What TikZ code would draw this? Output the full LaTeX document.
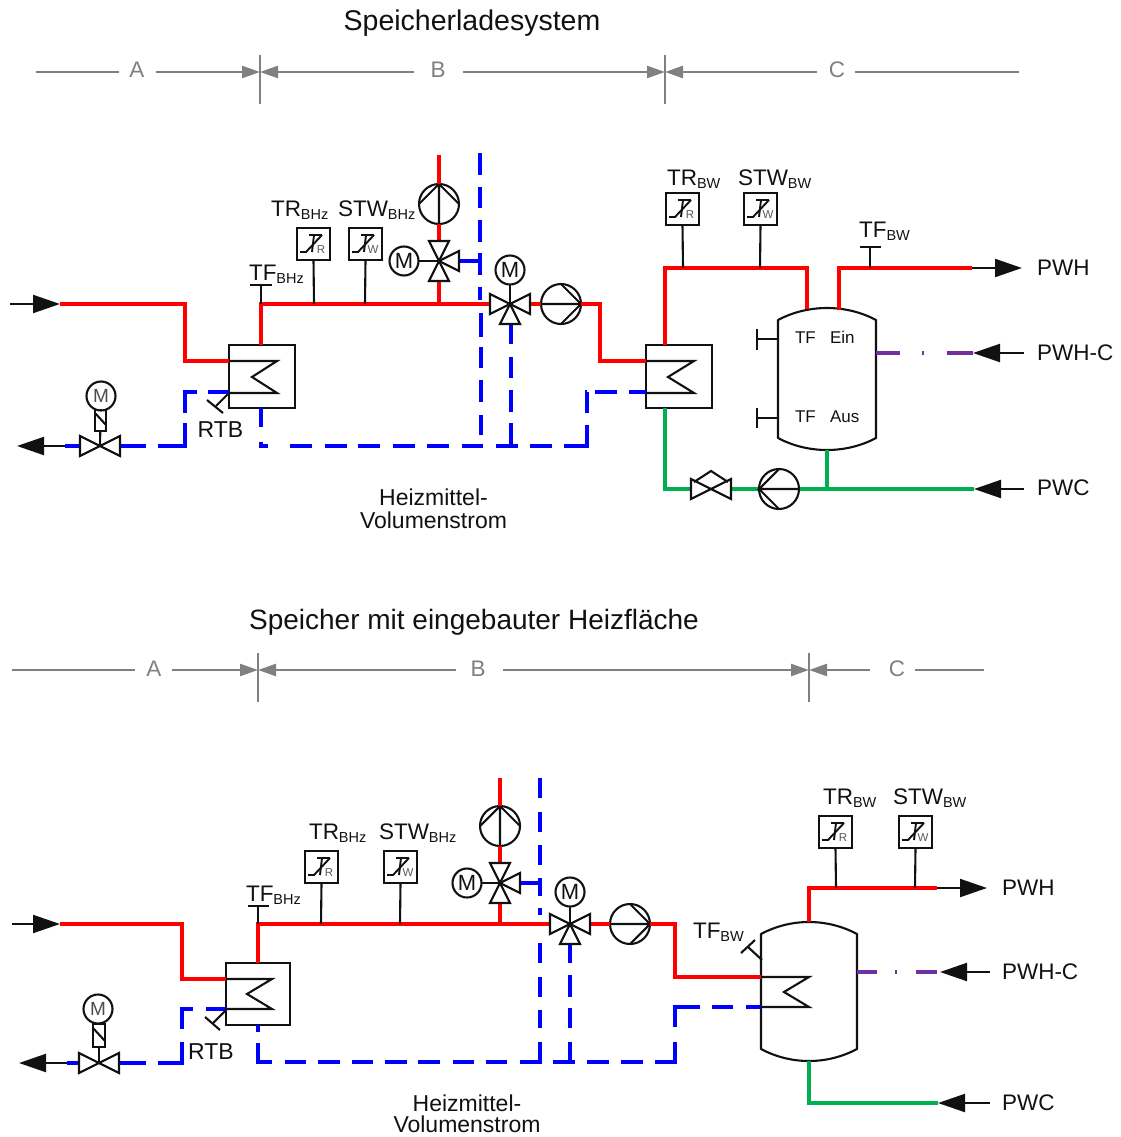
\documentclass[tikz,border=0pt]{standalone}
\usepackage{fontspec}
\setmainfont{Liberation Sans}
\usetikzlibrary{arrows.meta,calc}
\definecolor{pred}{HTML}{FF0000}
\definecolor{pblue}{HTML}{0000FF}
\definecolor{pgreen}{HTML}{00B050}
\definecolor{ppurple}{HTML}{7030A0}
\definecolor{dimgrey}{HTML}{808080}
\definecolor{ink}{HTML}{111111}
\tikzset{
  sym/.style={draw=ink,line width=2.1pt,line join=miter},
  redpipe/.style={draw=pred,line width=3.2pt,line join=miter},
  greenpipe/.style={draw=pgreen,line width=3.2pt,line join=miter},
  bluepipe/.style={draw=pblue,line width=3.2pt,line join=miter},
  purplepipe/.style={draw=ppurple,line width=3.2pt},
  flow/.style={draw=ink,line width=2.1pt,-{Triangle[length=27pt,width=18pt]}},
  dimline/.style={draw=dimgrey,line width=2.3pt},
  dimarrow/.style={dimline,-{Triangle[length=18pt,width=12pt]}},
  dimtick/.style={draw=dimgrey,line width=1.8pt},
  txt/.style={inner sep=0pt,outer sep=0pt,text=ink,font=\fontsize{23}{25}\selectfont},
  rtxt/.style={txt,anchor=base west,font=\fontsize{22.5}{25}\selectfont},
  titletxt/.style={inner sep=0pt,outer sep=0pt,text=ink,font=\fontsize{28.5}{30}\selectfont},
  dimtxt/.style={inner sep=0pt,outer sep=0pt,text=dimgrey,font=\fontsize{22.5}{25}\selectfont},
  smalltxt/.style={inner sep=0pt,outer sep=0pt,text=ink,font=\fontsize{17}{19}\selectfont},
  circ/.style={circle,sym,inner sep=0pt,outer sep=0pt,minimum size=40pt,fill=white},
  motor/.style={circle,sym,inner sep=0pt,outer sep=0pt,minimum size=29pt,fill=white,text=ink,font=\fontsize{22}{22}\selectfont},
  motorsm/.style={motor,text=black!70,font=\fontsize{19}{19}\selectfont},
  sbox/.style={rectangle,sym,inner sep=0pt,outer sep=0pt,minimum width=33pt,minimum height=32pt,anchor=north west},
  hxbox/.style={rectangle,sym,inner sep=0pt,outer sep=0pt,anchor=north west},
  actbox/.style={rectangle,sym,inner sep=0pt,outer sep=0pt,fill=white},
}
\newcommand\lblsub[2]{{\fontsize{22.5}{25}\selectfont #1}{\fontsize{14.5}{15}\selectfont\raisebox{-3.5pt}{#2}}}
\newcommand\sensorbox[4]{%
  \node[sbox] (#1) at (#2,#3) {};
  \draw[sym,line width=1.9pt] ($(#1.north west)+(3,24)$) -- ++(6,0) -- ++(16,-17);
  \draw[sym,line width=1.9pt] ($(#1.north west)+(12,7)$) -- ++(13,0);
  \draw[sym,line width=1.9pt] ($(#1.north west)+(17,7)$) -- ++(-2,17);
  \node[inner sep=0pt,text=black!65,font=\fontsize{11.5}{12}\selectfont] at ($(#1.north west)+(24,21.5)$) {#4};
}
\newcommand\valvept[3]{%
  \coordinate (#1) at (#2,#3);
  \coordinate (#1-l) at ($(#1)+(-20,0)$);
  \coordinate (#1-r) at ($(#1)+(20,0)$);
  \coordinate (#1-u) at ($(#1)+(0,-20)$);
  \coordinate (#1-d) at ($(#1)+(0,20)$);
}
\newcommand\triL[1]{\draw[sym] (#1) -- ($(#1-l)+(0,-10)$) -- ($(#1-l)+(0,10)$) -- cycle;}
\newcommand\triR[1]{\draw[sym] (#1) -- ($(#1-r)+(0,-10)$) -- ($(#1-r)+(0,10)$) -- cycle;}
\newcommand\triU[1]{\draw[sym] (#1) -- ($(#1-u)+(-10,0)$) -- ($(#1-u)+(10,0)$) -- cycle;}
\newcommand\triD[1]{\draw[sym] (#1) -- ($(#1-d)+(-10,0)$) -- ($(#1-d)+(10,0)$) -- cycle;}
\newcommand\pumpsym[7]{%
  \node[circ] (#1) at (#2,#3) {};
  \draw[sym] (#1.#5) -- (#1.#4) -- (#1.#6) (#1.#4) -- (#1.#7);
}
\newcommand\tanksym[7]{%
  \coordinate (#1-top) at ({(#2+#3)/2},#5);
  \coordinate (#1-bot) at ({(#2+#3)/2},#7);
  \draw[sym,line join=round] (#2,#4) .. controls ({#2+30},{#5-(#4-#5)/3}) and ({#3-30},{#5-(#4-#5)/3}) .. (#3,#4) -- (#3,#6)
     .. controls ({#3-30},{#7+(#7-#6)/3}) and ({#2+30},{#7+(#7-#6)/3}) .. (#2,#6) -- cycle;
}
% dashes of a blue pipe: horizontal run at y, vertical run at x; list of from/to
\newcommand\blueH[2]{\foreach \a/\b in {#2} {\draw[bluepipe] (\a,#1) -- (\b,#1);}}
\newcommand\blueV[2]{\foreach \a/\b in {#2} {\draw[bluepipe] (#1,\a) -- (#1,\b);}}
\begin{document}
\begin{tikzpicture}[x=1pt,y=-1pt]
\useasboundingbox (0,0) rectangle (1120,1137);

%================ TOP ================
\node[titletxt] (t1) at (472,23) {Speicherladesystem};
\coordinate (ta0) at (36,72); \coordinate (ta1) at (119,72); \coordinate (ta2) at (156,72);
\coordinate (tb) at (260,72); \coordinate (tb1) at (414,72); \coordinate (tb2) at (463,72);
\coordinate (tc) at (665,72); \coordinate (tc1) at (817,72); \coordinate (tc2) at (855,72); \coordinate (tc3) at (1019,72);
\node[dimtxt] (tA) at (137,70) {A}; \node[dimtxt] (tB) at (438,70) {B}; \node[dimtxt] (tC) at (837,70) {C};
\draw[dimline] (ta0) -- (ta1);
\draw[dimarrow] (ta2) -- (tb);
\draw[dimarrow] (tb1) -- (tb);
\draw[dimarrow] (tb2) -- (tc);
\draw[dimarrow] (tc1) -- (tc);
\draw[dimline] (tc2) -- (tc3);
\draw[dimtick] (260,55) -- (260,104);
\draw[dimtick] (665,55) -- (665,104);

\node[hxbox,minimum width=66pt,minimum height=63pt] (hx1) at (229,345) {};
\coordinate (hx1a) at (229,361); \coordinate (hx1b) at (229,393);
\coordinate (hx1t) at (261,345); \coordinate (hx1d) at (261,408);
\draw[sym] (hx1a) -- (277,361) -- (252,377) -- (277,393) -- (hx1b);
\node[hxbox,minimum width=66pt,minimum height=63pt] (hx2) at (646,345) {};
\coordinate (hx2a) at (646,361); \coordinate (hx2b) at (646,393);
\coordinate (hx2t) at (665,345); \coordinate (hx2d) at (665,408);
\draw[sym] (hx2a) -- (694,361) -- (668,377) -- (694,393) -- (hx2b);

% red pipes
\coordinate (in1) at (10,304); \coordinate (in1r) at (60,304);
\coordinate (j1) at (261,304); \coordinate (j2) at (314,304); \coordinate (j3) at (365,304); \coordinate (j4) at (439,304);
\valvept{v1}{439}{261}
\valvept{v2}{510}{304}
\coordinate (up1) at (439,155);
\pumpsym{p1}{439}{204}{north}{south}{west}{east}
\pumpsym{p2}{561}{304}{east}{west}{north}{south}
\draw[redpipe] (in1r) -- (185,304) -- (185,361) -- (hx1a);
\draw[redpipe] (hx1t) -- (j1) -- (v2-l);
\draw[redpipe] (j4) -- (v1-d);
\draw[redpipe] (v1-u) -- (p1.south);
\draw[redpipe] (p1.north) -- (up1);
\draw[redpipe] (v2-r) -- (p2.west);
\draw[redpipe] (p2.east) -- (600,304) -- (600,361) -- (hx2a);
\draw[flow] (in1) -- (in1r);

% blue pipes
\blueV{261}{408/427,442/447.6}
\blueH{446}{261/268,290/312,325/347,358/380,393/415,427/449,462/483,496/518,530/552,564/588.6}
\blueV{587}{425/447,392/413}
\blueH{392}{585.4/587,595/617,629/646}
\draw[bluepipe] (v1-r) -- (480,261);
\blueV{480}{153/175,187/208,220/242,253/275,287/300}
\blueV{481}{313/337,347/368,380/402,415/435}
\blueV{511}{324/344,357/378,390/412,423/446}
\valvept{v3}{100}{446}
\blueH{446}{120/146,158/186.6}
\blueV{185}{423/446,392/413}
\blueH{392}{183.4/197,208/229}
\coordinate (o3) at (65,446); \coordinate (o3l) at (17,446);
\draw[bluepipe] (v3-l) -- (o3);
\draw[flow] (o3) -- (o3l);

% valves
\triU{v1}\triD{v1}\triR{v1}
\node[motor] (m1) at (404,261) {M};
\draw[sym] (m1) -- (v1);
\triL{v2}\triR{v2}\triD{v2}
\node[motor] (m2) at (510,270) {M};
\draw[sym] (m2) -- (v2);
\triL{v3}\triR{v3}
\node[actbox,minimum width=11pt,minimum height=22pt] (a3) at (100.5,420) {};
\draw[sym] (v3) -- (a3);
\draw[sym] (a3.north west)++(0,4) -- ($(a3.south east)+(0,-6)$);
\node[motorsm] (m3) at (101,396) {M};
\draw[sym] (m3) -- (a3);
% RTB
\coordinate (rtb1) at (216,406);
\draw[sym] (229,393) -- (rtb1);
\draw[sym] (207,400) -- (223,413);
\node[txt,anchor=base] (rtb) at (220.5,437) {RTB};
% sensors
\coordinate (tf1) at (261,285);
\draw[sym] (j1) -- (tf1);
\draw[sym] (250,285) -- (272,285);
\node[txt,anchor=base west] (ltf1) at (249,280) {\lblsub{TF}{BHz}};
\sensorbox{s1}{297}{228}{R}
\sensorbox{s2}{349}{228}{W}
\draw[sym] (s1.south) -- (j2);
\draw[sym] (s2.south) -- (j3);
\node[txt,anchor=base west] (ls1) at (271,216) {\lblsub{TR}{BHz}};
\node[txt,anchor=base west] (ls2) at (338,216) {\lblsub{STW}{BHz}};
\node[txt,anchor=base] (hm1) at (433.5,505) {Heizmittel-};
\node[txt,anchor=base] (hm1b) at (433.5,528) {Volumenstrom};

% tank top
\tanksym{tk1}{778}{876}{320}{308}{438}{450}
\coordinate (r1) at (665,268); \coordinate (r2) at (807,268); \coordinate (r3) at (807,309);
\coordinate (r4) at (839,310); \coordinate (r5) at (839,268); \coordinate (r6) at (972,268);
\coordinate (oH) at (1022,268);
\draw[redpipe] (hx2t) -- (r1) -- (r2) -- (r3);
\draw[redpipe] (r4) -- (r5) -- (r6);
\draw[flow] (r6) -- (oH);
\sensorbox{s3}{666}{193}{R}
\sensorbox{s4}{744}{193}{W}
\coordinate (j5) at (683,268); \coordinate (j6) at (760,268); \coordinate (j7) at (870,268);
\draw[sym] (s3.south) -- (j5);
\draw[sym] (s4.south) -- (j6);
\draw[sym] (j7) -- (870,247);
\draw[sym] (860,247) -- (881,247);
\node[txt,anchor=base west] (ls3) at (667,185) {\lblsub{TR}{BW}};
\node[txt,anchor=base west] (ls4) at (738,185) {\lblsub{STW}{BW}};
\node[txt,anchor=base west] (ltf2) at (859,237) {\lblsub{TF}{BW}};
\draw[sym] (778,339) -- (757,339);
\draw[sym] (757,329) -- (757,350);
\draw[sym] (778,418) -- (757,418);
\draw[sym] (757,408) -- (757,428);
\node[smalltxt,anchor=base west] (te1) at (795,343) {TF};
\node[smalltxt,anchor=base west] (te2) at (830,343) {Ein};
\node[smalltxt,anchor=base west] (ta3) at (795,422) {TF};
\node[smalltxt,anchor=base west] (ta4) at (830,422) {Aus};
% purple
\coordinate (pu0) at (876,353); \coordinate (pu1) at (900,353); \coordinate (pu2) at (973,353); \coordinate (iH) at (1024,353);
\draw[purplepipe] (pu0) -- (pu1);
\draw[purplepipe] (922,353) -- (924,353);
\draw[purplepipe] (947,353) -- (pu2);
\draw[flow] (iH) -- (pu2);
% green
\valvept{v4}{711}{489}
\coordinate (g1) at (665,489); \coordinate (g2) at (827,489); \coordinate (g3) at (974,489); \coordinate (iC) at (1024,489);
\draw[greenpipe] (hx2d) -- (g1) -- (v4-l);
\draw[greenpipe] (v4-r) -- (g3);
\draw[greenpipe] (tk1-bot) -- (g2);
\pumpsym{p3}{779}{489}{west}{east}{north}{south}
\draw[flow] (iC) -- (g3);
\triL{v4}\triR{v4}
\draw[sym] (694,482) -- (711,471) -- (728,482);
\node[rtxt] (lH) at (1037,275) {PWH};
\node[rtxt] (lHC) at (1037,360) {PWH-C};
\node[rtxt] (lC) at (1037,495) {PWC};

%================ BOTTOM ================
\node[titletxt,font=\fontsize{28}{30}\selectfont] (t2) at (474,622) {Speicher mit eingebauter Heizfläche};
\coordinate (ba0) at (12,670); \coordinate (ba1) at (135,670); \coordinate (ba2) at (172,670);
\coordinate (bb) at (258,670); \coordinate (bb1) at (456,670); \coordinate (bb2) at (503,670);
\coordinate (bc) at (809,670); \coordinate (bc1) at (870,670); \coordinate (bc2) at (915,670); \coordinate (bc3) at (984,670);
\node[dimtxt] (bA) at (154,669) {A}; \node[dimtxt] (bB) at (478,669) {B}; \node[dimtxt] (bC) at (897,669) {C};
\draw[dimline] (ba0) -- (ba1);
\draw[dimarrow] (ba2) -- (bb);
\draw[dimarrow] (bb1) -- (bb);
\draw[dimarrow] (bb2) -- (bc);
\draw[dimarrow] (bc1) -- (bc);
\draw[dimline] (bc2) -- (bc3);
\draw[dimtick] (258,653) -- (258,702);
\draw[dimtick] (809,653) -- (809,702);

\node[hxbox,minimum width=64pt,minimum height=62pt] (hx3) at (226,963) {};
\coordinate (hx3a) at (226,979); \coordinate (hx3b) at (226,1009);
\coordinate (hx3t) at (258,963); \coordinate (hx3d) at (258,1025);
\draw[sym] (hx3a) -- (272,979) -- (247,994) -- (272,1009) -- (hx3b);

% red pipes
\coordinate (in2) at (12,924); \coordinate (in2r) at (60,924);
\coordinate (k1) at (258,924); \coordinate (k2) at (321,924); \coordinate (k3) at (400,924); \coordinate (k4) at (500,924);
\valvept{w1}{500}{883}
\valvept{w2}{570}{924}
\coordinate (up2) at (500,778);
\pumpsym{p4}{500}{826}{north}{south}{west}{east}
\pumpsym{p5}{630}{924}{east}{west}{north}{south}
\tanksym{tk2}{761}{857}{934}{922}{1049}{1061}
\coordinate (tk2a) at (761,977); \coordinate (tk2b) at (761,1007);
\draw[redpipe] (in2r) -- (182,924) -- (182,979) -- (hx3a);
\draw[redpipe] (hx3t) -- (k1) -- (w2-l);
\draw[redpipe] (k4) -- (w1-d);
\draw[redpipe] (w1-u) -- (p4.south);
\draw[redpipe] (p4.north) -- (up2);
\draw[redpipe] (w2-r) -- (p5.west);
\draw[redpipe] (p5.east) -- (675,924) -- (675,977) -- (tk2a);
\draw[flow] (in2) -- (in2r);
\draw[sym] (tk2a) -- (809,977) -- (784,992) -- (809,1007) -- (tk2b);

% blue pipes
\blueV{258}{1025/1032,1043/1063.6}
\blueH{1062}{256.4/272,285/306,318/340,352/373,385/407,418/440,453/474,486/507,520/541.6,553/575,587/609,621/643,655/676.6}
\blueV{675}{1042/1063.6,1007/1027}
\blueH{1007}{673.4/700,712/733,746/761}
\draw[bluepipe] (w1-r) -- (540,883);
\blueV{540}{778/798,812/832,845/865,878/896,908/915,943/963,977/997,1010/1028,1042/1063}
\blueV{570}{944/963,975/997,1008/1028,1042/1063}
\valvept{w3}{99}{1063}
\blueH{1063}{119/146,158/183.6}
\blueV{182}{1042/1063,1007.4/1029}
\blueH{1009}{180.4/193,206/226}
\coordinate (o4) at (67,1063); \coordinate (o4l) at (19,1063);
\draw[bluepipe] (w3-l) -- (o4);
\draw[flow] (o4) -- (o4l);

% valves
\triU{w1}\triD{w1}\triR{w1}
\node[motor] (m4) at (467,883) {M};
\draw[sym] (m4) -- (w1);
\triL{w2}\triR{w2}\triD{w2}
\node[motor] (m5) at (570,892) {M};
\draw[sym] (m5) -- (w2);
\triL{w3}\triR{w3}
\node[actbox,minimum width=12pt,minimum height=23pt] (a6) at (99,1035.5) {};
\draw[sym] (w3) -- (a6);
\draw[sym] (a6.north west)++(0,4) -- ($(a6.south east)+(0,-6)$);
\node[motorsm] (m6) at (98,1009) {M};
\draw[sym] (m6) -- (a6);
% RTB
\coordinate (rtb2) at (213,1023);
\draw[sym] (226,1010) -- (rtb2);
\draw[sym] (205,1017) -- (220,1030);
\node[txt,anchor=base] (rtb3) at (211,1059) {RTB};
% sensors
\draw[sym] (k1) -- (258,906);
\draw[sym] (248,906) -- (269,906);
\node[txt,anchor=base west] (ltf3) at (246,901) {\lblsub{TF}{BHz}};
\sensorbox{s5}{305}{851}{R}
\sensorbox{s6}{384}{851}{W}
\draw[sym] (s5.south) -- (k2);
\draw[sym] (s6.south) -- (k3);
\node[txt,anchor=base west] (ls5) at (309,839) {\lblsub{TR}{BHz}};
\node[txt,anchor=base west] (ls6) at (379,839) {\lblsub{STW}{BHz}};
\node[txt,anchor=base] (hm2) at (467,1111) {Heizmittel-};
\node[txt,anchor=base] (hm2b) at (467,1132) {Volumenstrom};

% tank right side
\coordinate (q1) at (809,888); \coordinate (q2) at (937,888); \coordinate (oH2) at (987,888);
\draw[redpipe] (tk2-top) -- (q1) -- (q2);
\draw[flow] (q2) -- (oH2);
\sensorbox{s7}{819}{816}{R}
\sensorbox{s8}{899}{816}{W}
\coordinate (k5) at (836,888); \coordinate (k6) at (915,888);
\draw[sym] (s7.south) -- (k5);
\draw[sym] (s8.south) -- (k6);
\node[txt,anchor=base west] (ls7) at (823,804) {\lblsub{TR}{BW}};
\node[txt,anchor=base west] (ls8) at (893,804) {\lblsub{STW}{BW}};
\draw[sym] (762,960) -- (748,947);
\draw[sym] (741,953) -- (755,940);
\node[txt,anchor=base west] (ltf4) at (693,938) {\lblsub{TF}{BW}};
% purple
\coordinate (pv0) at (857,972); \coordinate (pv1) at (877,972); \coordinate (pv2) at (940,972); \coordinate (iH2) at (990,972);
\draw[purplepipe] (pv0) -- (pv1);
\draw[purplepipe] (895,972) -- (897,972);
\draw[purplepipe] (916,972) -- (937,972);
\draw[flow] (iH2) -- (pv2);
% green
\coordinate (g4) at (809,1103); \coordinate (g5) at (938,1103); \coordinate (iC2) at (990,1103);
\draw[greenpipe] (tk2-bot) -- (g4) -- (g5);
\draw[flow] (iC2) -- (g5);
\node[rtxt] (lH2) at (1002,895) {PWH};
\node[rtxt] (lHC2) at (1002,979) {PWH-C};
\node[rtxt] (lC2) at (1002,1110) {PWC};
\end{tikzpicture}
\end{document}
